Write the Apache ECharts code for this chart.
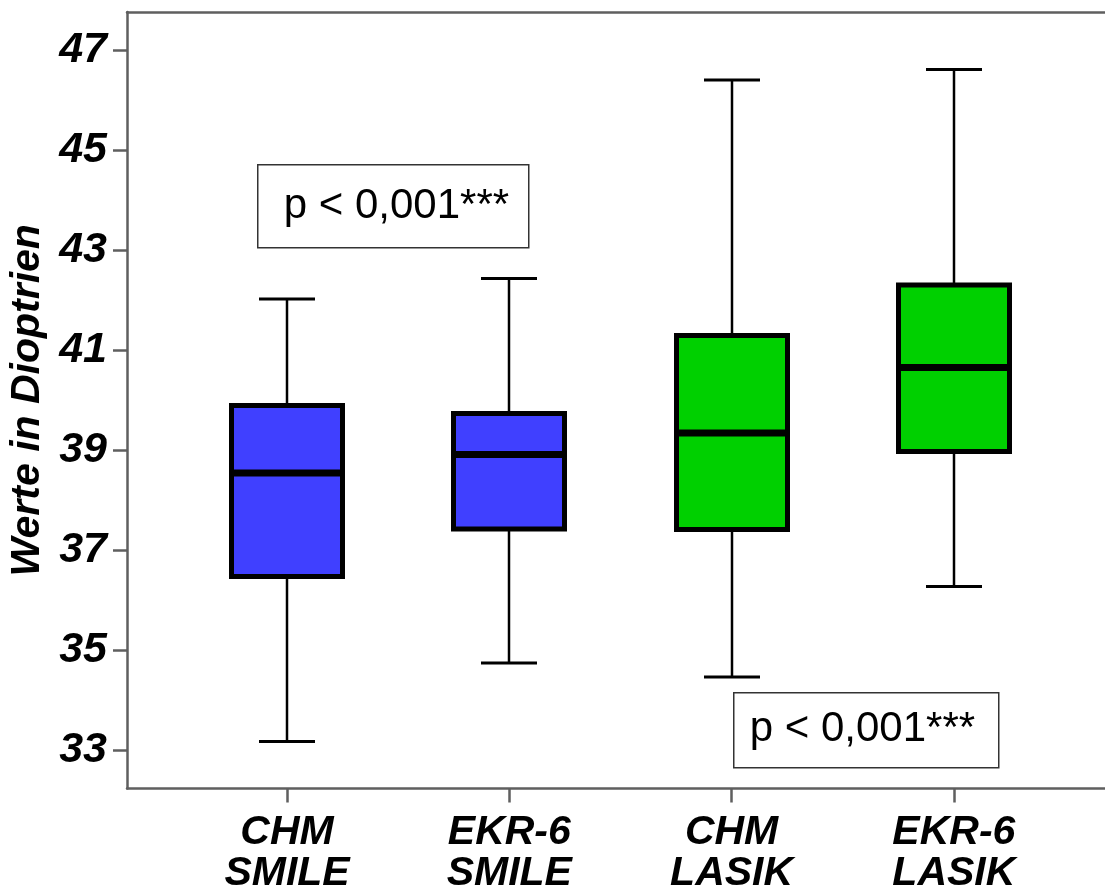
<!DOCTYPE html>
<html>
<head>
<meta charset="utf-8">
<title>Werte in Dioptrien</title>
<script src="https://cdn.jsdelivr.net/npm/echarts@6/dist/echarts.min.js"></script>
<style>
  html, body { margin: 0; padding: 0; background: #ffffff; }
  #chart { width: 1105px; height: 888px; }
</style>
</head>
<body>
<div id="chart"></div>
<script>
// Groups and box-plot statistics (diopters)
const categories = ['CHM\nSMILE', 'EKR-6\nSMILE', 'CHM\nLASIK', 'EKR-6\nLASIK'];
const whiskerLow  = [33.17, 34.74, 34.46, 36.27];
const quartile1   = [36.47, 37.42, 37.41, 38.97];
const median      = [38.54, 38.91, 39.34, 40.65];
const quartile3   = [39.89, 39.73, 41.29, 42.30];
const whiskerHigh = [42.02, 42.43, 46.40, 46.61];
const yTicks = [33, 35, 37, 39, 41, 43, 45, 47];
const pLabels = ['p < 0,001***', 'p < 0,001***'];

const boxFill = ['#4040ff', '#4040ff', '#00d000', '#00d000'];
const FONT = '"Liberation Sans", Arial, sans-serif';
const AXIS_GRAY = '#5f5f5f';

const boxData = categories.map((c, i) => [i, whiskerLow[i], quartile1[i], median[i], quartile3[i], whiskerHigh[i]]);

function renderBox(params, api) {
  const i = api.value(0);
  const pMin = api.coord([i, api.value(1)]);
  const pQ1 = api.coord([i, api.value(2)]);
  const pMed = api.coord([i, api.value(3)]);
  const pQ3 = api.coord([i, api.value(4)]);
  const pMax = api.coord([i, api.value(5)]);
  const cx = Math.round(pMin[0]);
  const boxW = 111;
  const capW = 56;
  const line = (x1, y1, x2, y2, w) => ({
    type: 'line',
    shape: { x1: x1, y1: y1, x2: x2, y2: y2 },
    style: { stroke: '#000', lineWidth: w }
  });
  return {
    type: 'group',
    children: [
      line(cx, pMax[1], cx, pQ3[1], 2.5),
      line(cx, pQ1[1], cx, pMin[1], 2.5),
      line(cx - capW / 2, pMax[1], cx + capW / 2, pMax[1], 3),
      line(cx - capW / 2, pMin[1], cx + capW / 2, pMin[1], 3),
      {
        type: 'rect',
        shape: { x: cx - boxW / 2, y: pQ3[1], width: boxW, height: pQ1[1] - pQ3[1] },
        style: { fill: boxFill[params.dataIndex], stroke: '#000', lineWidth: 5 }
      },
      line(cx - boxW / 2, pMed[1], cx + boxW / 2, pMed[1], 7)
    ]
  };
}

const chart = echarts.init(document.getElementById('chart'), null, { renderer: 'canvas' });

chart.setOption({
  animation: false,
  backgroundColor: '#ffffff',
  grid: { left: 127, right: 0, top: 12, bottom: 99.5, containLabel: false, outerBoundsMode: 'none' },
  xAxis: [
    {
      type: 'value',
      min: -0.72,
      max: 3.68,
      position: 'bottom',
      splitLine: { show: false },
      axisLine: { show: true, onZero: false, lineStyle: { color: AXIS_GRAY, width: 2.5 } },
      axisTick: {
        show: true, inside: false, length: 14,
        customValues: [0, 1, 2, 3],
        lineStyle: { color: AXIS_GRAY, width: 2.5 }
      },
      axisLabel: {
        show: true,
        customValues: [0, 1, 2, 3],
        formatter: v => categories[Math.round(v)] || '',
        margin: 24,
        fontFamily: FONT,
        fontSize: 41,
        fontWeight: 'bold',
        fontStyle: 'italic',
        lineHeight: 41,
        color: '#000',
        align: 'center'
      }
    },
    {
      type: 'value',
      min: -0.72,
      max: 3.68,
      position: 'top',
      splitLine: { show: false },
      axisLine: { show: true, onZero: false, lineStyle: { color: AXIS_GRAY, width: 2.5 } },
      axisTick: { show: false },
      axisLabel: { show: false }
    }
  ],
  yAxis: {
    type: 'value',
    min: 32.23,
    max: 47.76,
    name: 'Werte in Dioptrien',
    nameLocation: 'middle',
    nameGap: 79,
    nameRotate: 90,
    nameTextStyle: {
      fontFamily: FONT,
      fontSize: 41,
      fontWeight: 'bold',
      fontStyle: 'italic',
      color: '#000'
    },
    splitLine: { show: false },
    axisLine: { show: true, onZero: false, lineStyle: { color: AXIS_GRAY, width: 2.5 } },
    axisTick: {
      show: true, inside: false, length: 14,
      customValues: yTicks,
      lineStyle: { color: AXIS_GRAY, width: 2.5 }
    },
    axisLabel: {
      show: true,
      customValues: yTicks,
      margin: 20,
      padding: [8, 0, 0, 0],
      fontFamily: FONT,
      fontSize: 43,
      fontWeight: 'bold',
      fontStyle: 'italic',
      color: '#000'
    }
  },
  series: [
    {
      type: 'custom',
      xAxisIndex: 0,
      yAxisIndex: 0,
      renderItem: renderBox,
      encode: { x: 0, y: [1, 2, 3, 4, 5] },
      data: boxData,
      z: 5
    }
  ],
  graphic: [
    {
      type: 'group',
      left: 257, top: 164,
      children: [
        { type: 'rect', shape: { x: 0, y: 0, width: 271, height: 83 },
          style: { fill: '#fff', stroke: '#333', lineWidth: 1.5 } },
        { type: 'text', x: 26, y: 42,
          style: { text: pLabels[0], fill: '#000', font: '42px ' + FONT, verticalAlign: 'middle', align: 'left' } }
      ]
    },
    {
      type: 'group',
      left: 733, top: 692,
      children: [
        { type: 'rect', shape: { x: 0, y: 0, width: 265, height: 75 },
          style: { fill: '#fff', stroke: '#333', lineWidth: 1.5 } },
        { type: 'text', x: 16, y: 37,
          style: { text: pLabels[1], fill: '#000', font: '42px ' + FONT, verticalAlign: 'middle', align: 'left' } }
      ]
    }
  ]
});
</script>
</body>
</html>
